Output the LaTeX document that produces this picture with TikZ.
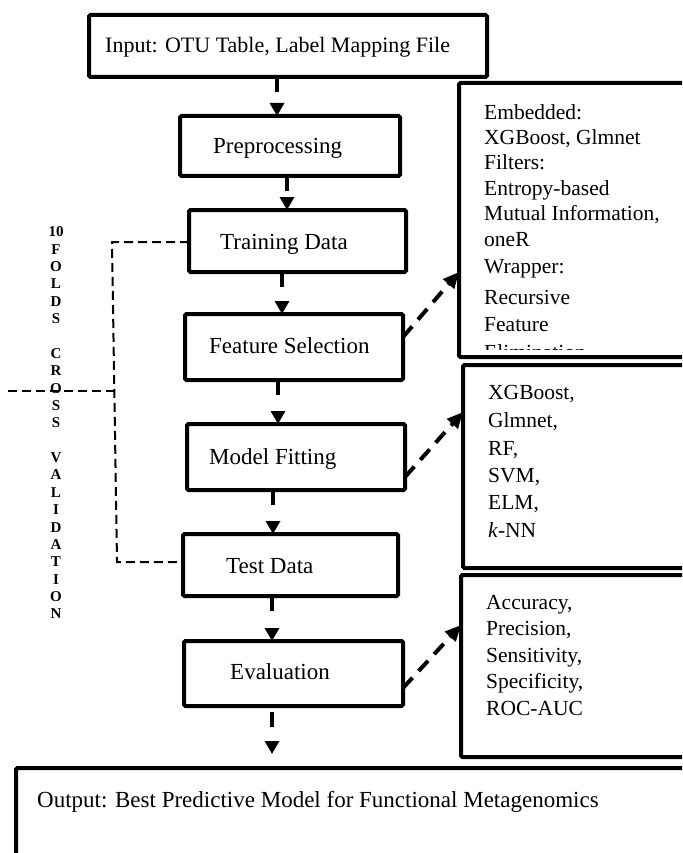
\documentclass[tikz,border=0pt]{standalone}
\usepackage{fontspec}
\setmainfont{Liberation Serif}
\usetikzlibrary{arrows.meta,calc}
\begin{document}
\begin{tikzpicture}[x=1pt,y=-1pt,
  box/.style={draw, line width=4pt, rounded corners=1.5pt, inner sep=0pt, outer sep=0pt},
  lbl/.style={font=\fontsize{23}{26}\selectfont, inner sep=0pt, anchor=base west},
  side/.style={font=\fontsize{21.5}{24}\selectfont, inner sep=0pt, anchor=base west},
  varrow/.style={line width=4pt, dash pattern=on 15pt off 40pt, -{Triangle[length=13pt,width=14pt]}},
  darrow/.style={line width=4pt, dash pattern=on 14pt off 9pt, -{Triangle[length=16pt,width=14pt]}},
  cvline/.style={line width=2pt, dash pattern=on 9pt off 5pt},
  cvtext/.style={font=\fontsize{15}{16}\selectfont\bfseries, inner sep=0pt}
]
\useasboundingbox (0,0) rectangle (682,853);
\clip (0,0) rectangle (682,853);

% main column boxes
\node[box, minimum width=398pt, minimum height=62pt] (input) at (288,46) {};
\node[box, minimum width=220pt, minimum height=60pt] (pre) at (290,146) {};
\node[box, minimum width=217pt, minimum height=62pt] (train) at (297.5,241) {};
\node[box, minimum width=218pt, minimum height=66pt] (feat) at (294,347) {};
\node[box, minimum width=218pt, minimum height=66pt] (model) at (296,457) {};
\node[box, minimum width=215pt, minimum height=62pt] (test) at (290.5,565) {};
\node[box, minimum width=219pt, minimum height=65pt] (eval) at (293.5,673.5) {};
\node[box, minimum width=704pt, minimum height=132pt] (output) at (368,834) {};

% side boxes
\node[box, minimum width=261pt, minimum height=274pt] (box1) at (589.5,220) {};
\node[box, minimum width=257pt, minimum height=203pt] (box2) at (591.5,466.5) {};
\node[box, minimum width=259pt, minimum height=182pt] (box3) at (590.5,666) {};

% labels
\node[lbl, font=\fontsize{22}{25}\selectfont] (inputT) at (105,53) {Input: OTU Table, Label Mapping File};
\node[lbl] (preT) at (213,154) {Preprocessing};
\node[lbl] (trainT) at (220,249) {Training Data};
\node[lbl] (featT) at (209,353) {Feature Selection};
\node[lbl] (modelT) at (209,464) {Model Fitting};
\node[lbl] (testT) at (226,573) {Test Data};
\node[lbl] (evalT) at (230,679) {Evaluation};
\node[lbl] (outputT) at (37,807) {Output: Best Predictive Model for Functional Metagenomics};

% side texts
\begin{scope}
\clip (461,85) rectangle (700,349);
\foreach \t/\y [count=\i] in {Embedded:/120, {XGBoost, Glmnet}/145, Filters:/170, Entropy-based/195, {Mutual Information,}/220, oneR/246, Wrapper:/273, Recursive/304, Feature/331, Elimination/359}
  \node[side] (fs\i) at (484,\y) {\t};
\end{scope}
\foreach \t/\y [count=\i] in {{XGBoost,}/399, {Glmnet,}/427, {RF,}/455, {SVM,}/482, {ELM,}/509, {\textit{k}-NN}/537}
  \node[side] (mf\i) at (488,\y) {\t};
\foreach \t/\y [count=\i] in {{Accuracy,}/609, {Precision,}/635.5, {Sensitivity,}/662, {Specificity,}/688.5, {ROC-AUC}/715}
  \node[side] (ev\i) at (486,\y) {\t};

% vertical arrows
\coordinate (x1) at (277,0);
\coordinate (x2) at (287,0);
\coordinate (x3) at (282,0);
\coordinate (x4) at (278,0);
\coordinate (x5) at (273,0);
\coordinate (x6) at (272,0);
\draw[varrow] (input.south -| x1) -- (pre.north -| x1);
\draw[varrow] (pre.south -| x2) -- (train.north -| x2);
\draw[varrow] (train.south -| x3) -- (feat.north -| x3);
\draw[varrow] (feat.south -| x4) -- (model.north -| x4);
\draw[varrow] (model.south -| x5) -- (test.north -| x5);
\draw[varrow] (test.south -| x6) -- (eval.north -| x6);
\draw[varrow, shorten <=6pt, shorten >=14pt] (eval.south -| x6) -- (output.north -| x6);

% diagonal arrows
\draw[darrow] ([yshift=10pt]feat.east) -- ([yshift=-52pt]box1.west);
\draw[darrow] ([yshift=-20pt]model.east) -- ([yshift=54.5pt]box2.west);
\draw[darrow] ([yshift=-14.5pt]eval.east) -- ([yshift=41pt]box3.west);

% cross validation bracket
\coordinate (cvtop) at (112,242);
\coordinate (cvbot) at (117,562);
\coordinate (cvmid) at (114.5,391);
\coordinate (cvleft) at (8,391);
\draw[cvline] (train.west |- cvtop) -- (cvtop) -- (cvbot) -- (test.west |- cvbot);
\draw[cvline] (cvleft) -- (cvmid);

\foreach \t [count=\i from 0] in {10,F,O,L,D,S,{},C,R,O,S,S,{},V,A,L,I,D,A,T,I,O,N}
  \node[cvtext] (cv\i) at (56,232+17.36*\i) {\t};
\end{tikzpicture}
\end{document}
